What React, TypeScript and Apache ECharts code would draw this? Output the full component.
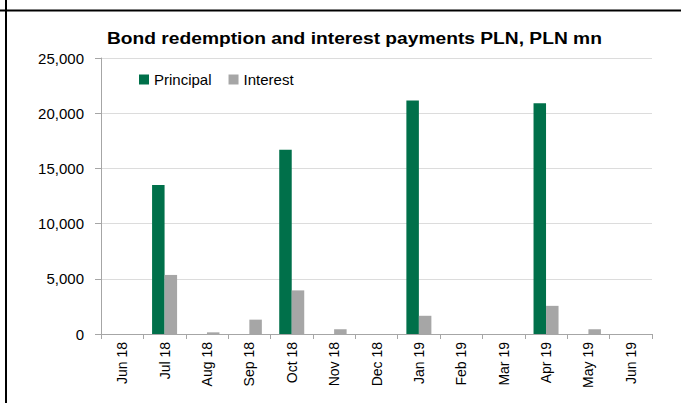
import React, { useEffect, useRef } from "react";
import * as echarts from "echarts";

const categories = ["Jun 18", "Jul 18", "Aug 18", "Sep 18", "Oct 18", "Nov 18", "Dec 18", "Jan 19", "Feb 19", "Mar 19", "Apr 19", "May 19", "Jun 19"];
const principal = [0, 13500, 0, 0, 16700, 0, 0, 21150, 0, 0, 20900, 0, 0];
const interest = [0, 5350, 150, 1300, 3950, 430, 0, 1650, 0, 0, 2550, 430, 0];
const titleText = "Bond redemption and interest payments PLN, PLN mn";

const FONT = "'Liberation Sans', Arial, sans-serif";

export default function App() {
  const ref = useRef<HTMLDivElement>(null);
  useEffect(() => {
    if (!ref.current) return;
    const chart = echarts.init(ref.current, undefined, { renderer: "svg" });
    chart.setOption({
      animation: false,
      backgroundColor: "#ffffff",
      textStyle: { fontFamily: FONT },
      grid: { left: 101, right: 29, top: 58, bottom: 69, containLabel: false },
      legend: {
        left: 134,
        top: 67,
        icon: "rect",
        itemWidth: 10,
        itemHeight: 10,
        itemGap: 17,
        textStyle: { fontSize: 15, color: "#000", fontFamily: FONT },
        data: ["Principal", "Interest"],
      },
      xAxis: {
        type: "category",
        data: categories,
        axisLine: { lineStyle: { color: "#a6a6a6", width: 1 } },
        axisTick: { show: true, length: 5, alignWithLabel: false, lineStyle: { color: "#a6a6a6" } },
        axisLabel: { rotate: 90, fontSize: 14, color: "#000", margin: 8, interval: 0, fontFamily: FONT },
      },
      yAxis: {
        type: "value",
        min: 0,
        max: 25000,
        interval: 5000,
        axisLine: { show: true, lineStyle: { color: "#a6a6a6", width: 1 } },
        axisTick: { show: true, length: 6, lineStyle: { color: "#a6a6a6" } },
        splitLine: { lineStyle: { color: "#dcdcdc", width: 1 } },
        axisLabel: {
          fontSize: 15,
          color: "#000",
          margin: 17,
          fontFamily: FONT,
          formatter: (v: number) => v.toLocaleString("en-US"),
        },
      },
      series: [
        {
          name: "Principal",
          type: "bar",
          data: principal,
          itemStyle: { color: "#00704a" },
          barGap: "0%",
          barCategoryGap: "41%",
        },
        {
          name: "Interest",
          type: "bar",
          data: interest,
          itemStyle: { color: "#a6a6a6" },
          barGap: "0%",
          barCategoryGap: "41%",
        },
      ],
      graphic: [
        {
          type: "text",
          x: 107,
          y: 38,
          scaleX: 1.13,
          style: { text: titleText, font: `bold 17px ${FONT}`, fill: "#000", align: "left", verticalAlign: "middle" },
        },
        { type: "line", shape: { x1: 0, y1: 10.5, x2: 681, y2: 10.5 }, style: { stroke: "#000", lineWidth: 2 } },
        { type: "line", shape: { x1: 6, y1: 0, x2: 6, y2: 403 }, style: { stroke: "#000", lineWidth: 2 } },
      ],
    });
    return () => chart.dispose();
  }, []);
  return (
    <div
      ref={ref}
      style={{ position: "fixed", left: 0, top: 0, width: 681, height: 403, background: "#fff" }}
    />
  );
}
